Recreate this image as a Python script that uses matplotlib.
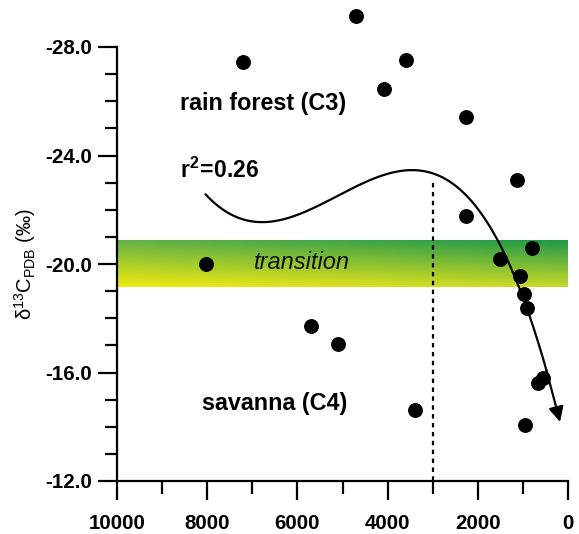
import numpy as np
import matplotlib
matplotlib.use("Agg")
import matplotlib.pyplot as plt
from matplotlib.ticker import MultipleLocator, FormatStrFormatter

plt.rcParams['font.family'] = ['Liberation Sans', 'DejaVu Sans']
plt.rcParams['mathtext.fontset'] = 'custom'
plt.rcParams['mathtext.rm'] = 'Liberation Sans'
plt.rcParams['mathtext.bf'] = 'Liberation Sans:bold'
plt.rcParams['mathtext.it'] = 'Liberation Sans:italic'

# --- data (years BP vs delta13C) ---
age = [7206, 4701, 4080, 3592, 2262, 1131, 2262, 798, 1508, 1064,
       8027, 976, 909, 5698, 5100, 554, 665, 3392, 953]
d13c = [-27.45, -29.14, -26.46, -27.52, -25.43, -23.08, -21.76, -20.59, -20.18, -19.56,
        -20.0, -18.90, -18.39, -17.72, -17.06, -15.78, -15.63, -14.62, -14.05]

# trend curve (fitted polynomial, r2 = 0.26)
trend_age = [8049, 6674, 3348, 2838, 2106, 1663, 554, 177]
trend_d13c = [-22.61, -21.51, -23.50, -23.31, -22.10, -21.25, -16.45, -14.24]

transition_band = (-20.85, -19.14)
divide_age = 3000
divide_top = -23.0

xticks = [10000, 8000, 6000, 4000, 2000, 0]
yticks = [-28.0, -24.0, -20.0, -16.0, -12.0]

fig = plt.figure(figsize=(5.79, 5.34), dpi=100)
ax = fig.add_axes([117/579, 1 - 481/534, 451/579, 434/534])

# gradient band
tl = np.array([100, 178, 70]) / 255
tr = np.array([30, 152, 72]) / 255
bl = np.array([242, 234, 16]) / 255
br = np.array([200, 216, 42]) / 255
ny, nx = 60, 200
u = np.linspace(0, 1, nx)[None, :, None]
v = np.linspace(0, 1, ny)[:, None, None]
top = tl * (1 - u) + tr * u
bot = bl * (1 - u) + br * u
img = top * (1 - v) + bot * v
ax.imshow(img, extent=[10000, 20, transition_band[1], transition_band[0]],
          aspect='auto', origin='upper', zorder=0, interpolation='bilinear')
ax.set_xlim(10000, 0)
ax.set_ylim(-12, -28)

# dotted divide
ax.plot([divide_age, divide_age], [divide_top, -12], ls=(0, (2, 2)), color='black', lw=1.6, zorder=2)

# trend curve
coef = np.polyfit(trend_age, trend_d13c, 3)
xs = np.linspace(trend_age[0], trend_age[-1] + 250, 300)
ys = np.polyval(coef, xs)
ax.plot(xs, ys, color='black', lw=1.6, zorder=3, solid_capstyle='butt')
x_tip = trend_age[-1]
ax.annotate('', xy=(x_tip, np.polyval(coef, x_tip)),
            xytext=(x_tip + 300, np.polyval(coef, x_tip + 300)),
            arrowprops=dict(arrowstyle='-|>,head_length=0.9,head_width=0.45',
                            color='black', lw=1.6, shrinkA=0, shrinkB=0),
            zorder=4)

# points
ax.scatter(age, d13c, s=115, color='black', zorder=5, clip_on=False, linewidths=0)

# texts
ax.text(8600, -25.93, 'rain forest (C3)', fontsize=16.8, fontweight='bold', va='center', ha='left')
ax.text(8600, -23.46, r'$\mathbf{r^2\!=\!0.26}$', fontsize=16.5, va='center', ha='left')
ax.text(6962, -20.07, 'transition', fontsize=17, style='italic', va='center', ha='left', color='#111111')
ax.text(8115, -14.85, 'savanna (C4)', fontsize=16.8, fontweight='bold', va='center', ha='left')

# axes styling
for s in ['top', 'right']:
    ax.spines[s].set_visible(False)
for s in ['left', 'bottom']:
    ax.spines[s].set_linewidth(1.6)
ax.set_xticks(xticks)
ax.set_yticks(yticks)
ax.xaxis.set_minor_locator(MultipleLocator(1000))
ax.yaxis.set_minor_locator(MultipleLocator(1))
ax.yaxis.set_major_formatter(FormatStrFormatter('%.1f'))
ax.tick_params(which='major', length=14, width=1.6, direction='out')
ax.tick_params(which='minor', length=9, width=1.6, direction='out')
ax.tick_params(axis='x', which='major', pad=10)
ax.tick_params(axis='y', which='major', pad=4)
for lab in ax.get_xticklabels() + ax.get_yticklabels():
    lab.set_fontweight('bold')
    lab.set_fontsize(14.8)

ax.set_ylabel('δ$^{13}$C$_{\\mathrm{PDB}}$ (‰)', fontsize=14.5)
ax.yaxis.set_label_coords(-0.175, 0.5)

fig.savefig('out.png', dpi=100)
